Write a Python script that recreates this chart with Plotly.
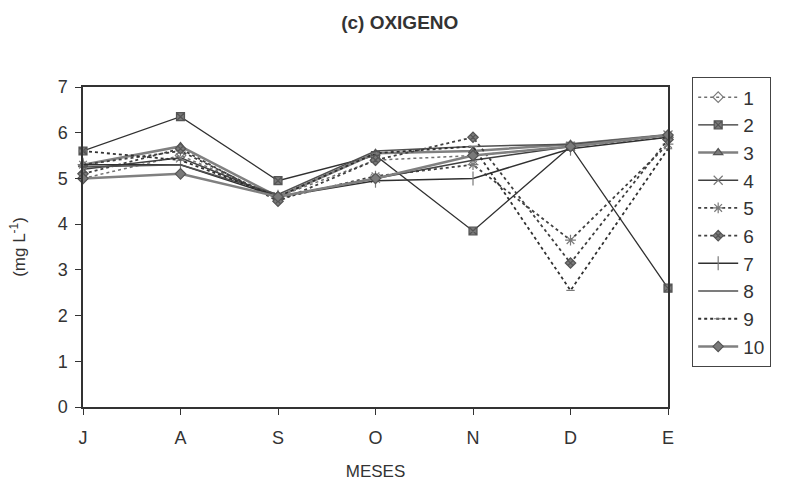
import plotly.graph_objects as go

months = ["J", "A", "S", "O", "N", "D", "E"]
series_names = ["1", "2", "3", "4", "5", "6", "7", "8", "9", "10"]

s1 = [5.0, 5.5, 4.6, 5.4, 5.5, 5.7, 5.9]
s2 = [5.6, 6.35, 4.95, 5.5, 3.85, 5.7, 2.6]
s3 = [5.3, 5.7, 4.6, 5.55, 5.6, 5.75, 5.95]
s4 = [5.2, 5.45, 4.6, 5.0, 5.4, 5.7, 5.95]
s5 = [5.3, 5.6, 4.55, 5.05, 5.3, 3.65, 5.75]
s6 = [5.1, 5.65, 4.5, 5.4, 5.9, 3.15, 5.85]
s7 = [5.3, 5.3, 4.6, 4.95, 5.0, 5.65, 5.9]
s8 = [5.25, 5.3, 4.65, 5.6, 5.7, 5.75, 5.95]
s9 = [5.6, 5.4, 4.6, 5.55, 5.7, 2.55, 5.65]
s10 = [5.0, 5.1, 4.6, 5.0, 5.5, 5.7, 5.95]
values = [s1, s2, s3, s4, s5, s6, s7, s8, s9, s10]

styles = [
    dict(dash="dot", width=1.5, color="#707070", symbol="diamond-open", msize=8),
    dict(dash="solid", width=1.3, color="#303030", symbol="square-x", msize=8),
    dict(dash="solid", width=2.5, color="#808080", symbol="triangle-up", msize=8),
    dict(dash="solid", width=1.5, color="#404040", symbol="x-thin-open", msize=9),
    dict(dash="dot", width=1.8, color="#404040", symbol="asterisk-open", msize=9),
    dict(dash="dot", width=1.8, color="#404040", symbol="diamond-x", msize=8),
    dict(dash="solid", width=1.5, color="#303030", symbol="line-ns-open", msize=10),
    dict(dash="solid", width=1.5, color="#505050", symbol="circle", msize=0),
    dict(dash="dot", width=1.8, color="#303030", symbol="line-ew-open", msize=6),
    dict(dash="solid", width=2.5, color="#808080", symbol="diamond", msize=8),
]

xpos = list(range(len(months)))
fig = go.Figure()
for name, vals, st in zip(series_names, values, styles):
    fig.add_trace(go.Scatter(
        x=xpos, y=vals, name=name,
        mode="lines+markers" if st["msize"] > 0 else "lines",
        line=dict(color=st["color"], width=st["width"], dash=st["dash"]),
        marker=dict(symbol=st["symbol"], size=st["msize"], color="#7a7a7a",
                    line=dict(color="#555555", width=1.2)),
        cliponaxis=False,
    ))

fig.update_layout(
    width=790, height=486,
    margin=dict(l=83, r=122, t=87, b=79),
    paper_bgcolor="white", plot_bgcolor="white",
    font=dict(family="Liberation Sans, Arial, sans-serif", color="#333333"),
    title=dict(text="<b>(c) OXIGENO</b>", x=0.506, xanchor="center", y=0.955, yanchor="middle",
               font=dict(size=19, color="#333333")),
    showlegend=True,
    legend=dict(x=1.041, xanchor="left", y=1.031, yanchor="top",
                bordercolor="#444444", borderwidth=1.2, bgcolor="white",
                font=dict(size=19, color="#333333"), tracegroupgap=0,
                maxheight=440, itemwidth=40),
)
fig.update_xaxes(
    tickmode="array", tickvals=xpos, ticktext=months, range=[0, 6],
    showline=True, linecolor="#333333", linewidth=1.5, mirror=True,
    ticks="outside", ticklen=6, tickcolor="#333333", showgrid=False, zeroline=False,
    tickfont=dict(size=18), ticklabelstandoff=8, automargin=False,
    title=dict(text="MESES", font=dict(size=17), standoff=18),
)
fig.update_yaxes(
    range=[0, 7], dtick=1, showline=True, linecolor="#333333", linewidth=1.5, mirror=True,
    ticks="outside", ticklen=6, tickcolor="#333333", showgrid=False, zeroline=False,
    tickfont=dict(size=18), ticklabelstandoff=4, automargin=False,
    title=dict(text="(mg L<sup>-1</sup>)", font=dict(size=17), standoff=28),
)

fig.write_html("out.html")
